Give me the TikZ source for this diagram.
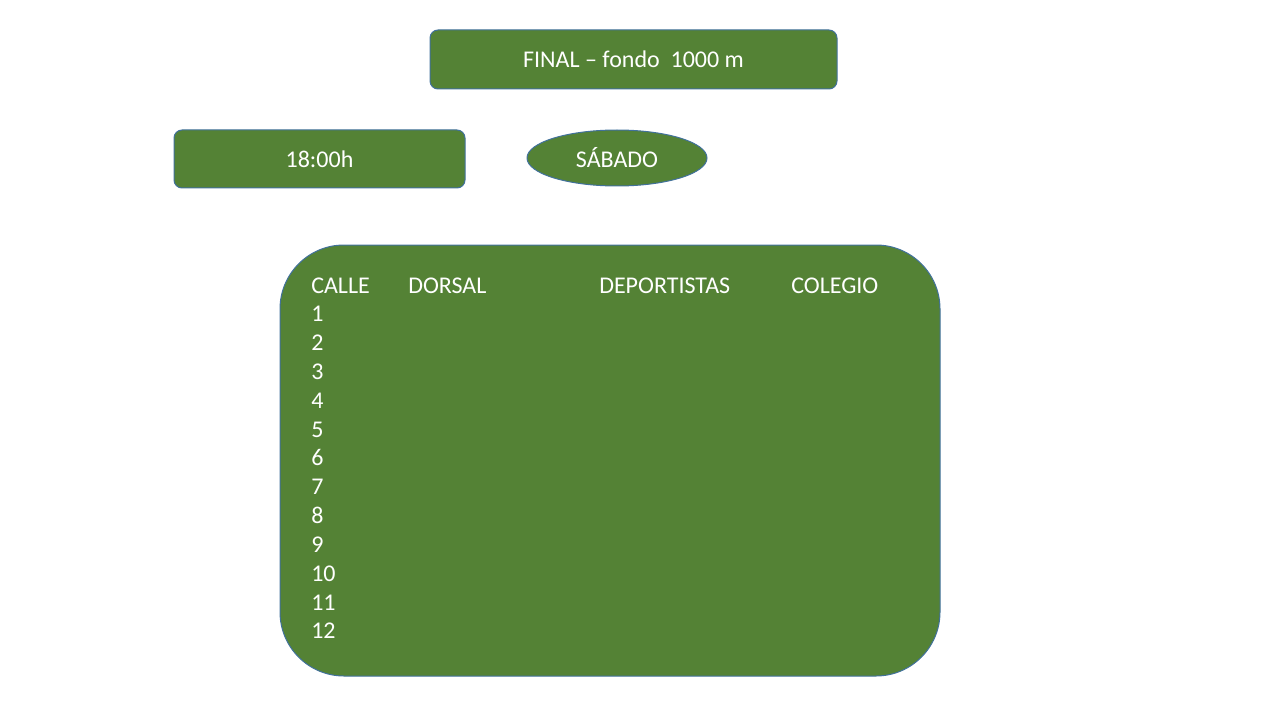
\documentclass[tikz,border=0pt]{standalone}
\usepackage{fontspec}
\setmainfont{Carlito}
\usepackage{xcolor}
\usepackage{tikz}
\usetikzlibrary{positioning,shapes.geometric}
\definecolor{boxgreen}{HTML}{548235}
\definecolor{boxline}{HTML}{41719C}
\tikzset{
    greenbox/.style={
        rectangle,
        rounded corners=6pt,
        fill=boxgreen,
        draw=boxline, line width=0.75pt,
        text=white,
        inner sep=0pt
    },
    greenoval/.style={
        ellipse,
        fill=boxgreen,
        draw=boxline, line width=0.75pt,
        text=white,
        inner sep=0pt
    },
    cell/.style={anchor=base west, inner sep=0pt, text=white},
    font={\fontsize{18pt}{21.6pt}\selectfont},
}
\begin{document}
\begin{tikzpicture}[x=0.75pt,y=-0.75pt]
    \useasboundingbox (0,0) rectangle (1280,720);

    \node(final)[greenbox, minimum width=305.25pt, minimum height=44.25pt] at (633.5,59.5) {FINAL -- fondo\ \ 1000 m};
    \node(hora)[greenbox, minimum width=218.25pt, minimum height=43.5pt] at (319.5,159) {18:00h};
    \node(dia)[greenoval, minimum width=135pt, minimum height=42pt] at (617,158) {SÁBADO};
    \node(tabla)[greenbox, rounded corners=48pt, minimum width=495pt, minimum height=323.25pt] at (610,460.5) {};

    % cabecera
    \node(calle)[cell] at (311,293) {CALLE};
    \node(dorsal)[cell] at (408,293) {DORSAL};
    \node(deport)[cell] at (599,293) {DEPORTISTAS};
    \node(colegio)[cell] at (791,293) {COLEGIO};
    \foreach \i in {1,...,12}
        \node(calle\i)[cell] at (311,293+28.83*\i) {\i};
\end{tikzpicture}
\end{document}
